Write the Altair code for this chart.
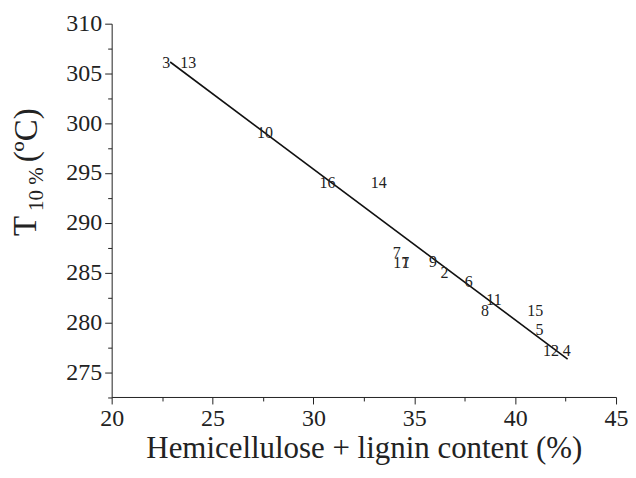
import altair as alt
import pandas as pd

# sample labels, hemicellulose + lignin content (%), T10% (°C)
labels = ["3", "13", "10", "16", "14", "7", "17", "1", "9", "2", "6", "11", "8", "15", "5", "12", "4"]
content = [22.7, 23.8, 27.6, 30.7, 33.24, 34.13, 34.35, 34.57, 35.93, 36.5, 37.7, 38.95, 38.5, 41.0, 41.2, 41.78, 42.55]
t10 = [306.05, 306.0, 299.0, 294.0, 294.0, 287.0, 286.0, 286.0, 286.1, 285.0, 284.0, 282.2, 281.1, 281.1, 279.2, 277.1, 277.1]

# fitted line end points
fit_x = [22.9, 42.6]
fit_y = [306.15, 276.3]

x_ticks = [20, 22.5, 25, 27.5, 30, 32.5, 35, 37.5, 40, 42.5, 45]
y_ticks = [272.5, 275, 277.5, 280, 282.5, 285, 287.5, 290, 292.5, 295, 297.5, 300, 302.5, 305, 307.5, 310]

# y-axis title pieces (text, font size, pixel x, pixel y relative to plot origin)
ytitle_parts = ["T", "10 %", "(ºC)"]
ytitle_sizes = [33, 21, 33]
ytitle_px = [-86, -75, -85]
ytitle_py = [203, 166, 112]

FONT = "Liberation Serif, Times New Roman, serif"

pts = pd.DataFrame({"label": labels, "x": content, "y": t10})
fit = pd.DataFrame({"x": fit_x, "y": fit_y})

major_tick = {"condition": {"test": "datum.value % 5 === 0", "value": 7}, "value": 4}
lab_expr = "datum.value % 5 === 0 ? datum.label : ''"

xenc = alt.X("x:Q", scale=alt.Scale(domain=[20, 45], nice=False, zero=False),
             axis=alt.Axis(values=x_ticks, title="Hemicellulose + lignin content (%)",
                           labelExpr=lab_expr, tickSize=major_tick, labelFont=FONT))
yenc = alt.Y("y:Q", scale=alt.Scale(domain=[272.5, 310], nice=False, zero=False),
             axis=alt.Axis(values=y_ticks, title="", labelExpr=lab_expr,
                           tickSize=major_tick, labelFont=FONT))

line = alt.Chart(fit).mark_line(color="#111", strokeWidth=1.6).encode(x=xenc, y=yenc)
text = alt.Chart(pts).mark_text(font=FONT, fontSize=16, color="#222",
                                align="center", baseline="middle").encode(
    x=xenc, y=yenc, text="label:N")

layers = [line, text]
for t, s, px, py in zip(ytitle_parts, ytitle_sizes, ytitle_px, ytitle_py):
    layers.append(
        alt.Chart(pts).mark_text(font=FONT, color="#222", angle=270, fontSize=s,
                                 align="center", baseline="middle", text=t).encode(
            x=alt.value(px), y=alt.value(py)).transform_filter("datum.label === '3'")
    )

chart = alt.layer(*layers).properties(
    width=506, height=374.5,
    padding={"left": 104, "top": 15, "right": 12, "bottom": 68},
    autosize=alt.AutoSizeParams(type="none"),
).configure_view(stroke=None).configure_axis(
    grid=False, labelFlush=False, labelOverlap=False,
    labelFont=FONT, labelFontSize=24, labelColor="#222", labelPadding=3,
    titleFont=FONT, titleFontSize=31, titleFontWeight="normal", titleColor="#222",
    titlePadding=3, domainColor="#222", tickColor="#222",
)

chart.save("out.html", embed_options={"renderer": "svg", "actions": False})
